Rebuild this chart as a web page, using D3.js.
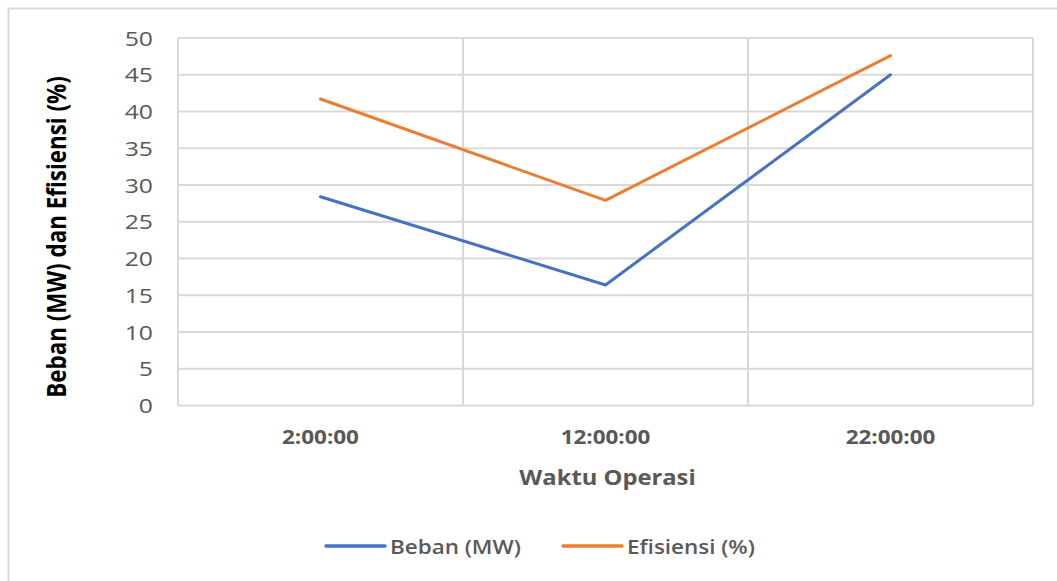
<!DOCTYPE html>
<html><head><meta charset="utf-8">
<script src="https://cdn.jsdelivr.net/npm/d3@7"></script>
<style>body{margin:0;background:#fff}svg{display:block}text{font-family:"Open Sans",sans-serif}</style>
</head><body><svg id="c" width="1057" height="581"></svg>
<script>
const categories = ["2:00:00", "12:00:00", "22:00:00"];
const bebanValues = [28.4, 16.4, 45.0];
const efisiensiValues = [41.7, 27.9, 47.6];
const yTicks = [0, 5, 10, 15, 20, 25, 30, 35, 40, 45, 50];
const seriesNames = ["Beban (MW)", "Efisiensi (%)"];
const seriesColors = ["#4472C4", "#ED7D31"];

const svg = d3.select("#c");
svg.append("path").attr("d","M8.5,581V8.5H1057").attr("fill","none").attr("stroke","#d9d9d9").attr("stroke-width",2);

const L=178, R=1033, T=38, B=405.5;
const x = d3.scaleBand().domain(categories).range([L,R]);
const y = d3.scaleLinear().domain([0,50]).range([B,T]);

// horizontal stretch helper: scale each text's width by factor
function stretch(sel, factor){
  sel.each(function(){
    const w=this.getComputedTextLength();
    d3.select(this).attr("textLength",w*factor).attr("lengthAdjust","spacingAndGlyphs");
  });
}

const g = svg.append("g");
g.selectAll("line.h").data(yTicks).join("line")
 .attr("x1",L).attr("x2",R).attr("y1",d=>y(d)).attr("y2",d=>y(d))
 .attr("stroke","#d9d9d9").attr("stroke-width",2);
const bounds = categories.map(c=>x(c)).concat([R]);
g.selectAll("line.v").data(bounds).join("line")
 .attr("x1",d=>d).attr("x2",d=>d).attr("y1",T).attr("y2",B)
 .attr("stroke","#d9d9d9").attr("stroke-width",2);

const yAxis = d3.axisLeft(y).tickValues(yTicks).tickSize(0).tickPadding(25);
const ya = svg.append("g").attr("transform",`translate(${L},0)`).call(yAxis);
ya.select(".domain").remove();
ya.selectAll("text").attr("font-size",19.5).attr("fill","#595959").attr("font-family","'Open Sans',sans-serif").attr("dy","0.36em");
stretch(ya.selectAll("text"),1.27);

const xAxis = d3.axisBottom(x).tickSize(0).tickPadding(0);
const xa = svg.append("g").attr("transform",`translate(0,0)`).call(xAxis);
xa.select(".domain").remove();
xa.selectAll("text").attr("y",444).attr("dy",null).attr("font-size",19.5).attr("font-weight","bold").attr("fill","#595959").attr("font-family","'Open Sans',sans-serif");
stretch(xa.selectAll("text"),1.15);

svg.append("text").attr("transform",`translate(66,${237}) scale(1.2,1) rotate(-90)`).attr("text-anchor","middle")
 .attr("font-size",22.4).attr("font-weight","bold").attr("fill","#000").text("Beban (MW) dan Efisiensi (%)");
const wt = svg.append("text").attr("x",607.5).attr("y",485).attr("text-anchor","middle")
 .attr("font-size",22).attr("font-weight","bold").attr("fill","#595959").text("Waktu Operasi");
stretch(wt,1.08);

const line = d3.line().x((d,i)=>x(categories[i])+x.bandwidth()/2).y(d=>y(d));
[bebanValues, efisiensiValues].forEach((vals,i)=>{
  svg.append("path").datum(vals).attr("d",line).attr("fill","none")
   .attr("stroke",seriesColors[i]).attr("stroke-width",3).attr("stroke-linecap","round").attr("stroke-linejoin","round");
});

const legX=[326,563];
seriesNames.forEach((n,i)=>{
  const lg = svg.append("g");
  lg.append("line").attr("x1",legX[i]).attr("x2",legX[i]+59).attr("y1",546).attr("y2",546)
    .attr("stroke",seriesColors[i]).attr("stroke-width",3.5).attr("stroke-linecap","round");
  const t = lg.append("text").attr("x",legX[i]+64).attr("y",554).attr("font-size",19.5).attr("font-weight","600")
    .attr("fill","#595959").text(n);
  stretch(t,1.15);
});
</script></body></html>
